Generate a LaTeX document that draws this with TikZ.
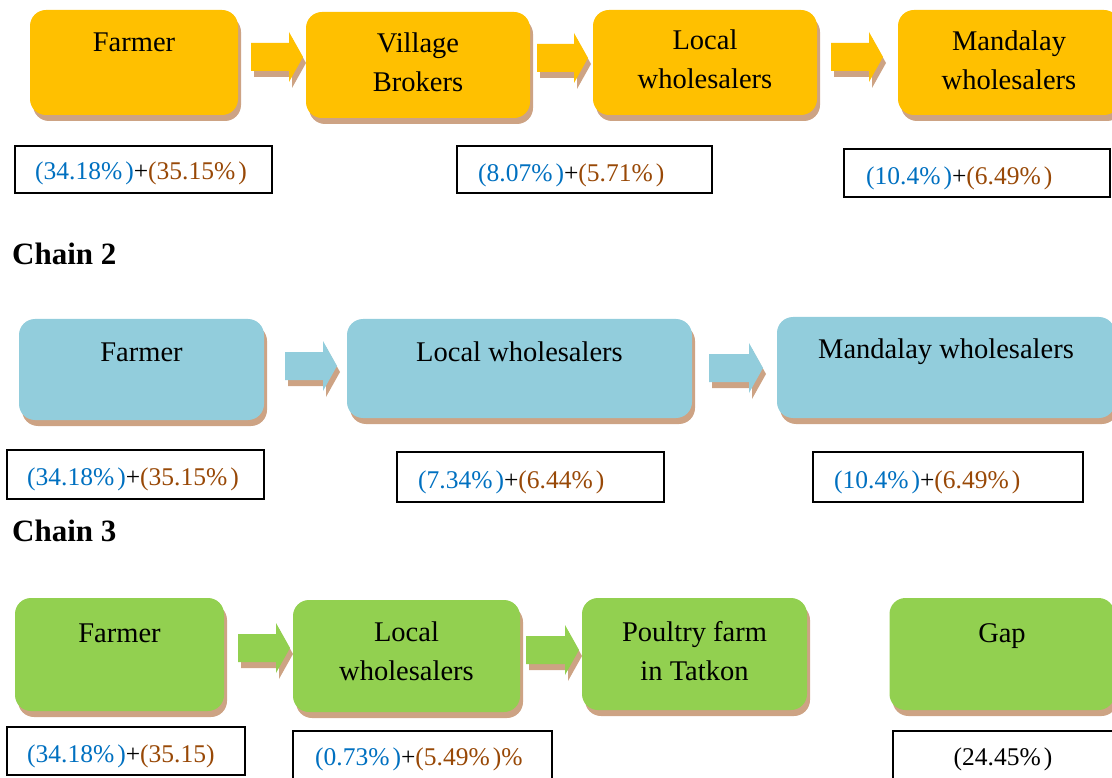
\documentclass[tikz,border=0pt]{standalone}
\usepackage{fontspec}
\setmainfont{Liberation Serif}
\usetikzlibrary{shadows}
\definecolor{cyel}{HTML}{FFC000}
\definecolor{cblu}{HTML}{92CDDC}
\definecolor{cgrn}{HTML}{92D050}
\definecolor{csh}{HTML}{CDA384}
\definecolor{pblue}{HTML}{0070C0}
\definecolor{pbrown}{HTML}{984806}
\tikzset{
 sh/.style={drop shadow={shadow xshift=3pt,shadow yshift=-6pt,fill=csh,opacity=1}},
 stage/.style={sh, rectangle, rounded corners=16pt, draw=none, inner sep=0pt},
 stagetext/.style={font=\fontsize{28.5}{39}\selectfont, align=center, anchor=base, inner sep=0pt},
 pctbox/.style={draw=black, line width=1.4pt, rectangle, inner sep=0pt},
 pcttext/.style={font=\fontsize{25.5}{30}\selectfont, anchor=base west, inner sep=0pt},
 chaintitle/.style={font=\fontsize{31}{36}\selectfont\bfseries, anchor=base west, inner sep=0pt},
}
\newcommand\blockarr[4]{%
 \fill[sh, #1] (#2,#4-14) -- (#3-14,#4-14) -- (#3-14,#4-25) -- (#3,#4) -- (#3-14,#4+25) -- (#3-14,#4+14) -- (#2,#4+14) -- cycle;}
\newcommand\pb[1]{\textcolor{pblue}{#1}}
\newcommand\pr[1]{\textcolor{pbrown}{#1}}
\begin{document}
\begin{tikzpicture}[x=1pt,y=-1pt]
\useasboundingbox (0,0) rectangle (1112,778);
\clip (0,0) rectangle (1112,778);
% ---------------- Chain 1 ----------------
\node[stage, fill=cyel, minimum width=208, minimum height=105] (y1) at (134,62.5) {};
\node[stage, fill=cyel, minimum width=224, minimum height=106] (y2) at (418,65) {};
\node[stage, fill=cyel, minimum width=224, minimum height=105] (y3) at (705,62.5) {};
\node[stage, fill=cyel, minimum width=222, minimum height=105] (y4) at (1009,62.5) {};
\node[stagetext] (ty1) at (134,52) {Farmer};
\node[stagetext] (ty2) at (418,92) {Village\\Brokers};
\node[stagetext] (ty3) at (705,89) {Local\\wholesalers};
\node[stagetext] (ty4) at (1009,90) {Mandalay\\wholesalers};
\blockarr{cyel}{251}{303}{57}
\blockarr{cyel}{537}{588}{58}
\blockarr{cyel}{831}{883}{57}
\node[pctbox, minimum width=257, minimum height=47] (l11) at (143.5,169.5) {};
\node[pctbox, minimum width=255, minimum height=47] (l12) at (584.5,169.5) {};
\node[pctbox, minimum width=266, minimum height=48] (l13) at (977,173) {};
\node[pcttext] (p11) at (35,180) {\pb{(34.18\%\kern3pt)}+\pr{(35.15\%\kern3pt)}};
\node[pcttext] (p12) at (478,182) {\pb{(8.07\%\kern3pt)}+\pr{(5.71\%\kern3pt)}};
\node[pcttext] (p13) at (866,185) {\pb{(10.4\%\kern3pt)}+\pr{(6.49\%\kern3pt)}};
% ---------------- Chain 2 ----------------
\node[chaintitle] (c2) at (12,265) {Chain 2};
\node[stage, fill=cblu, minimum width=245, minimum height=101] (b1) at (141.5,369.5) {};
\node[stage, fill=cblu, minimum width=345, minimum height=99] (b2) at (519.5,368.5) {};
\node[stage, fill=cblu, minimum width=338, minimum height=101] (b3) at (946,367.5) {};
\node[stagetext] (tb1) at (141.5,362) {Farmer};
\node[stagetext] (tb2) at (519.5,362) {Local wholesalers};
\node[stagetext] (tb3) at (946,358) {Mandalay wholesalers};
\blockarr{cblu}{285}{337}{366}
\blockarr{cblu}{709}{763}{368}
\node[pctbox, minimum width=257, minimum height=49] (l21) at (135.5,474.5) {};
\node[pctbox, minimum width=267, minimum height=50] (l22) at (530.5,477) {};
\node[pctbox, minimum width=270, minimum height=50] (l23) at (948,477) {};
\node[pcttext] (p21) at (27,485) {\pb{(34.18\%\kern3pt)}+\pr{(35.15\%\kern3pt)}};
\node[pcttext] (p22) at (418,488) {\pb{(7.34\%\kern3pt)}+\pr{(6.44\%\kern3pt)}};
\node[pcttext] (p23) at (834,488) {\pb{(10.4\%\kern3pt)}+\pr{(6.49\%\kern3pt)}};
% ---------------- Chain 3 ----------------
\node[chaintitle] (c3) at (12,541) {Chain 3};
\node[stage, fill=cgrn, minimum width=209, minimum height=113] (g1) at (119.5,654.5) {};
\node[stage, fill=cgrn, minimum width=227, minimum height=112] (g2) at (406.5,656) {};
\node[stage, fill=cgrn, minimum width=225, minimum height=112] (g3) at (694.5,654) {};
\node[stage, fill=cgrn, minimum width=225, minimum height=112] (g4) at (1002,654) {};
\node[stagetext] (tg1) at (119.5,642) {Farmer};
\node[stagetext] (tg2) at (406.5,680) {Local\\wholesalers};
\node[stagetext] (tg3) at (694.5,680) {Poultry farm\\in Tatkon};
\node[stagetext] (tg4) at (1002,642) {Gap};
\blockarr{cgrn}{238}{290}{648}
\blockarr{cgrn}{526}{579}{650}
\node[pctbox, minimum width=238, minimum height=48] (l31) at (126,751) {};
\node[pctbox, minimum width=259, minimum height=60] (l32) at (422.5,761) {};
\node[pctbox, minimum width=227, minimum height=60] (l33) at (1006.5,761) {};
\node[pcttext] (p31) at (27,762) {\pb{(34.18\%\kern3pt)}+\pr{(35.15)}};
\node[pcttext] (p32) at (315,765) {\pb{(0.73\%\kern3pt)}+\pr{(5.49\%\kern3pt)\%}};
\node[pcttext, anchor=base] (p33) at (1003,765) {(24.45\%\kern3pt)};
\end{tikzpicture}
\end{document}
